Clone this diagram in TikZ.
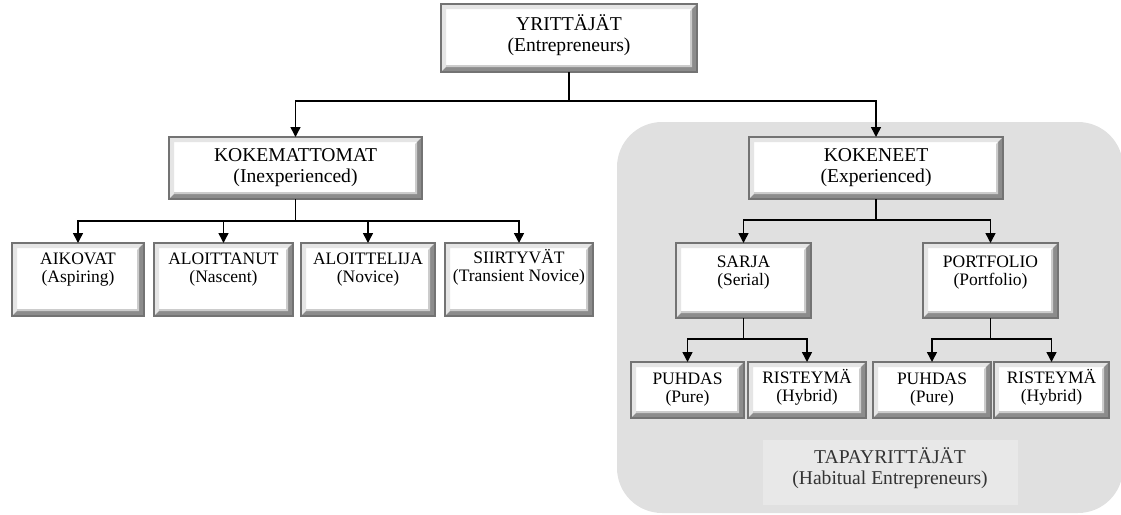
\documentclass[tikz,border=0pt]{standalone}
\usepackage{fontspec}
\setmainfont{Liberation Serif}
\usetikzlibrary{arrows.meta}
\begin{document}
\begin{tikzpicture}[x=1pt,y=-1pt,
  % bevelled white box: light top/left edge, shaded bottom/right edge
  box/.style={draw=black!55, line width=1.2pt, fill=white, inner sep=0pt, outer sep=0pt,
    path picture={
      \fill[black!10]
        (path picture bounding box.south west) -- (path picture bounding box.north west)
        -- (path picture bounding box.north east) -- ([shift={(-5pt,-5pt)}]path picture bounding box.north east)
        -- ([shift={(5pt,-5pt)}]path picture bounding box.north west) -- ([shift={(5pt,5pt)}]path picture bounding box.south west) -- cycle;
      \fill[black!45]
        (path picture bounding box.south west) -- (path picture bounding box.south east)
        -- (path picture bounding box.north east) -- ([shift={(-5pt,-5pt)}]path picture bounding box.north east)
        -- ([shift={(-5pt,5pt)}]path picture bounding box.south east) -- ([shift={(5pt,5pt)}]path picture bounding box.south west) -- cycle;
      \fill[black!20]
        ([shift={(-5pt,-5pt)}]path picture bounding box.north east) -- ([shift={(-5pt,5pt)}]path picture bounding box.south east)
        -- ([shift={(5pt,5pt)}]path picture bounding box.south west) -- ([shift={(5pt,7pt)}]path picture bounding box.south west)
        -- ([shift={(-7pt,7pt)}]path picture bounding box.south east) -- ([shift={(-7pt,-7pt)}]path picture bounding box.north east) -- cycle;
    }},
  bigtxt/.style={align=center, inner sep=0pt, font=\fontsize{19.6}{21}\selectfont},
  smalltxt/.style={align=center, inner sep=0pt, anchor=north, font=\fontsize{17.5}{17.8}\selectfont},
  conn/.style={line width=1.5pt},
  arr/.style={line width=1.5pt, -{Triangle[length=10pt,width=10pt]}}
]
\useasboundingbox (0,0) rectangle (1121,514);

% habitual entrepreneurs area
\fill[black!12, rounded corners=45pt] (617,122) rectangle (1123,513);
\fill[black!9] (763,440) rectangle (1018,505);
\node[bigtxt, text=black!80] (tap) at (890,468.5) {TAPAYRITTÄJÄT\\(Habitual Entrepreneurs)};

% boxes
\node[box, minimum width=256pt, minimum height=68pt] (Y)  at (569,38) {};
\node[box, minimum width=253pt, minimum height=62pt] (KM) at (295.5,168) {};
\node[box, minimum width=254pt, minimum height=62pt] (KN) at (876,168) {};

\node[box, minimum width=132pt, minimum height=73pt] (A1) at (78,279.5) {};
\node[box, minimum width=139pt, minimum height=73pt] (A2) at (223.5,279.5) {};
\node[box, minimum width=134pt, minimum height=73pt] (A3) at (368,279.5) {};
\node[box, minimum width=148pt, minimum height=73pt] (A4) at (519,279.5) {};

\node[box, minimum width=135pt, minimum height=75pt] (S)  at (743.5,280.5) {};
\node[box, minimum width=135pt, minimum height=75pt] (P)  at (990.5,280.5) {};

\node[box, minimum width=113pt, minimum height=56pt] (S1) at (687.5,390) {};
\node[box, minimum width=118pt, minimum height=56pt] (S2) at (807,390) {};
\node[box, minimum width=118pt, minimum height=56pt] (P1) at (932,390) {};
\node[box, minimum width=115pt, minimum height=56pt] (P2) at (1051.5,390) {};

% texts
\node[bigtxt] (Yt)  at (569,34.7) {YRITTÄJÄT\\(Entrepreneurs)};
\node[bigtxt] (KMt) at (295.5,167.5) {KOKEMATTOMAT\\(Inexperienced)};
\node[bigtxt] (KNt) at (876,167.7) {KOKENEET\\(Experienced)};

\node[smalltxt] (A1t) at (78,252.5) {AIKOVAT\\(Aspiring)};
\node[smalltxt] (A2t) at (223.5,252.5) {ALOITTANUT\\(Nascent)};
\node[smalltxt] (A3t) at (368,252.5) {ALOITTELIJA\\(Novice)};
\node[smalltxt] (A4t) at (519,249.2) {SIIRTYVÄT\\(Transient Novice)};

\node[smalltxt] (St) at (743.5,256) {SARJA\\(Serial)};
\node[smalltxt] (Pt) at (990.5,256) {PORTFOLIO\\(Portfolio)};

\node[smalltxt] (S1t) at (687.5,372.5) {PUHDAS\\(Pure)};
\node[smalltxt] (S2t) at (807,369.2) {RISTEYMÄ\\(Hybrid)};
\node[smalltxt] (P1t) at (932,372.5) {PUHDAS\\(Pure)};
\node[smalltxt] (P2t) at (1051.5,369.2) {RISTEYMÄ\\(Hybrid)};

% connectors
\coordinate (j0) at (569,101);
\coordinate (j1) at (295.5,221);
\coordinate (j2) at (876,220);
\coordinate (j3) at (743.5,339);
\coordinate (j4) at (990.5,339);

\draw[conn] (Y.south) -- (j0);
\draw[arr] (j0) -| (KM.north);
\draw[arr] (j0) -| (KN.north);

\draw[conn] (KM.south) -- (j1);
\draw[arr] (j1) -| (A1.north);
\draw[arr] (j1) -| (A2.north);
\draw[arr] (j1) -| (A3.north);
\draw[arr] (j1) -| (A4.north);

\draw[conn] (KN.south) -- (j2);
\draw[arr] (j2) -| (S.north);
\draw[arr] (j2) -| (P.north);

\draw[conn] (S.south) -- (j3);
\draw[arr] (j3) -| (S1.north);
\draw[arr] (j3) -| (S2.north);

\draw[conn] (P.south) -- (j4);
\draw[arr] (j4) -| (P1.north);
\draw[arr] (j4) -| (P2.north);
\end{tikzpicture}
\end{document}
